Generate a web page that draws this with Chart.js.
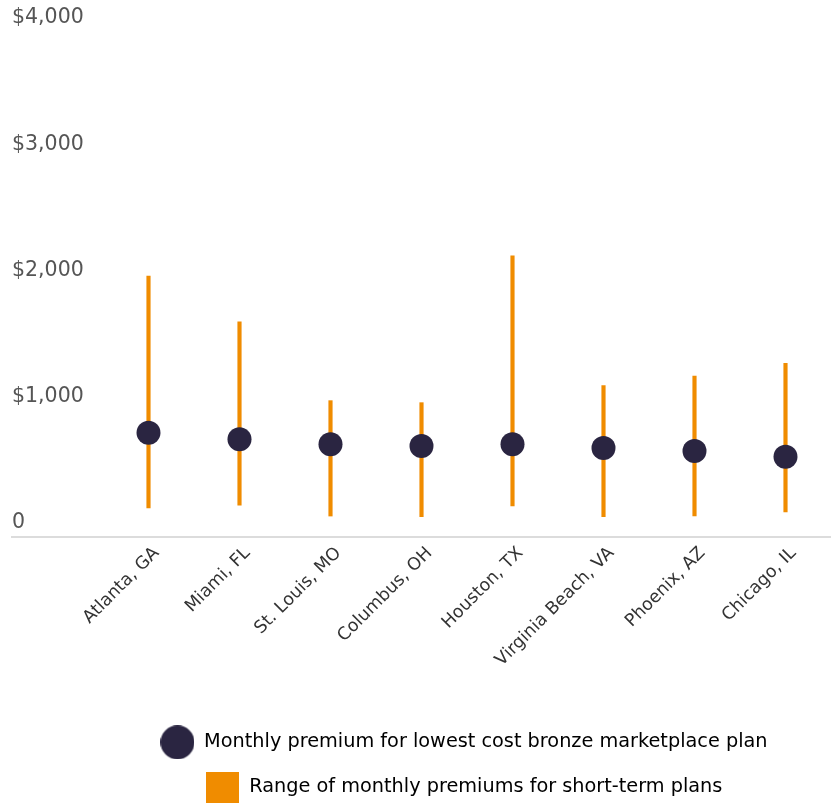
<!DOCTYPE html>
<html>
<head>
<meta charset="utf-8">
<title>Short-term plan premiums vs bronze marketplace plans</title>
<script src="https://cdn.jsdelivr.net/npm/chart.js@4/dist/chart.umd.min.js"></script>
<style>
  html, body { margin: 0; padding: 0; background: #fff; }
  canvas { display: block; }
</style>
</head>
<body>
<canvas id="chart" width="831" height="803"></canvas>
<script>
"use strict";

/*global Chart*/

// first slot is left empty, the y labels sit there
var cities = ['', 'Atlanta, GA', 'Miami, FL', 'St. Louis, MO', 'Columbus, OH',
    'Houston, TX', 'Virginia Beach, VA', 'Phoenix, AZ', 'Chicago, IL'];
var bronzePremium = [null, 826, 774, 734, 721, 734, 705, 681, 636];
var shortTermLow = [null, 230, 253, 166, 161, 246, 161, 166, 198];
var shortTermHigh = [null, 2067, 1705, 1080, 1064, 2228, 1199, 1275, 1376];
var yTicks = [0, 1000, 2000, 3000, 4000];

var navy = '#2a2541',
    orange = '#f08c00',
    fontFamily = '"DejaVu Sans", sans-serif';

var legendCircle = function () {
    var c = document.createElement('canvas'),
        ctx = c.getContext('2d');
    c.width = 34;
    c.height = 34;
    ctx.fillStyle = navy;
    ctx.beginPath();
    ctx.arc(17, 17, 17, 0, Math.PI * 2);
    ctx.fill();
    return c;
};

var legendSquare = function () {
    var c = document.createElement('canvas'),
        ctx = c.getContext('2d');
    c.width = 33;
    c.height = 31;
    ctx.fillStyle = orange;
    ctx.fillRect(0, 0, 33, 31);
    return c;
};

var ranges = shortTermLow.map(function (low, i) {
    return low === null ? null : [low, shortTermHigh[i]];
});

// nudge the legend so the rows centre where the original has them
var legendShift = {
    id: 'legendShift',
    afterLayout: function (chart) {
        chart.legend.left = 97;
        chart.legend.top += 4;
    }
};

var chart = new Chart(document.getElementById('chart'), {
    type: 'bar',
    data: {
        labels: cities,
        datasets: [{
            type: 'line',
            label: 'Monthly premium for lowest cost bronze marketplace plan',
            data: bronzePremium,
            showLine: false,
            pointRadius: 12,
            pointHoverRadius: 12,
            pointBackgroundColor: navy,
            pointBorderWidth: 0,
            order: 0
        }, {
            label: 'Range of monthly premiums for short-term plans',
            data: ranges,
            backgroundColor: orange,
            barThickness: 3.5,
            order: 1
        }]
    },
    plugins: [legendShift],
    options: {
        responsive: false,
        animation: false,
        devicePixelRatio: 1,
        layout: {
            autoPadding: false,
            padding: {top: 32, left: 12, right: 0, bottom: 0}
        },
        plugins: {
            tooltip: {enabled: false},
            legend: {
                position: 'bottom',
                labels: {
                    usePointStyle: true,
                    pointStyleWidth: 34,
                    padding: 25.7,
                    color: '#222',
                    font: {family: fontFamily, size: 19.3},
                    generateLabels: function (chart) {
                        var ds = chart.data.datasets;
                        return [{
                            text: ds[0].label,
                            pointStyle: legendCircle(),
                            fillStyle: navy,
                            lineWidth: 0,
                            datasetIndex: 0
                        }, {
                            text: ds[1].label,
                            pointStyle: legendSquare(),
                            fillStyle: orange,
                            lineWidth: 0,
                            datasetIndex: 1
                        }];
                    }
                }
            }
        },
        scales: {
            x: {
                grid: {display: false},
                border: {display: true, color: '#dcdcdc', width: 2},
                ticks: {
                    minRotation: 45,
                    maxRotation: 45,
                    padding: -2,
                    labelOffset: 8,
                    color: '#333',
                    font: {family: fontFamily, size: 17.5}
                },
                afterFit: function (scale) {
                    scale.height = 166;
                    scale.paddingLeft = 0;
                    scale.paddingRight = 0;
                }
            },
            y: {
                min: 0,
                max: 4000,
                grid: {display: false},
                border: {display: false},
                afterBuildTicks: function (scale) {
                    scale.ticks = yTicks.map(function (v) { return {value: v}; });
                },
                afterFit: function (scale) {
                    scale.width = 0;
                },
                ticks: {
                    mirror: true,
                    padding: 0,
                    labelOffset: -14,
                    color: '#555',
                    font: {family: fontFamily, size: 20.5},
                    callback: function (v) {
                        return v === 0 ? '0' : '$' + v.toLocaleString('en-US');
                    }
                }
            }
        }
    }
});
</script>
</body>
</html>
